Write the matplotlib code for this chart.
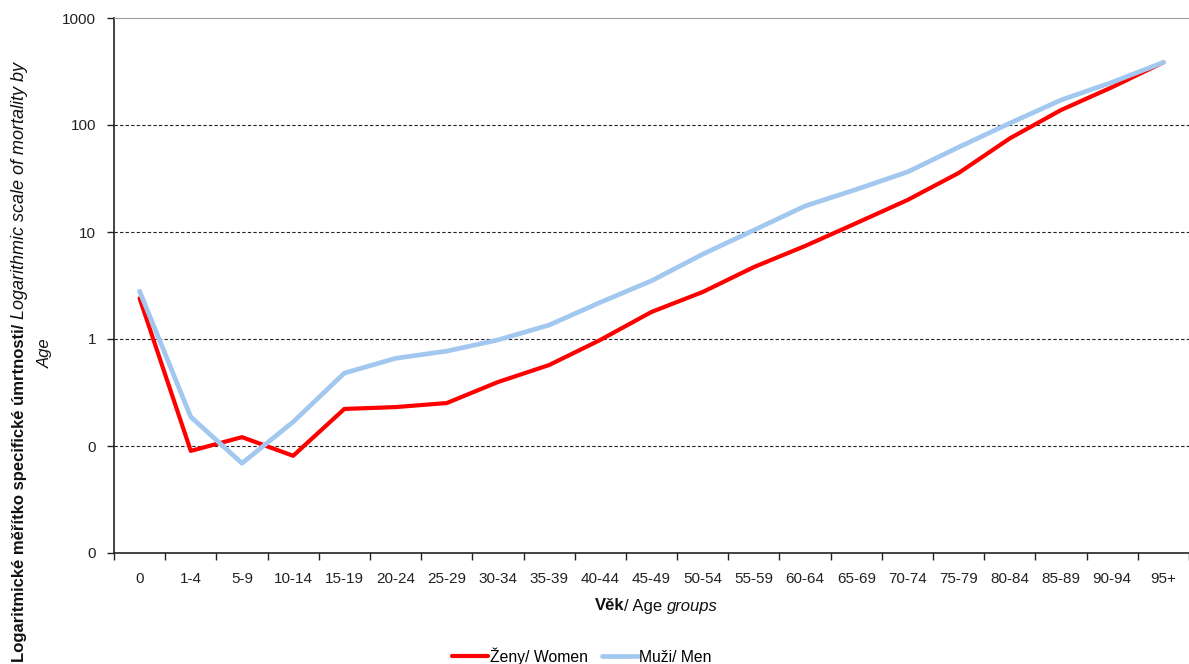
import matplotlib.pyplot as plt
import numpy as np
from matplotlib.ticker import FuncFormatter, NullLocator, FixedLocator

plt.rcParams["font.family"] = ["Liberation Sans", "DejaVu Sans"]
plt.rcParams["font.size"] = 11

# Age groups and age-specific mortality (log scale)
age_groups = ["0", "1-4", "5-9", "10-14", "15-19", "20-24", "25-29", "30-34",
              "35-39", "40-44", "45-49", "50-54", "55-59", "60-64", "65-69",
              "70-74", "75-79", "80-84", "85-89", "90-94", "95+"]
women = [2.4, 0.09, 0.121, 0.081, 0.222, 0.231, 0.252, 0.396, 0.571, 0.98,
         1.79, 2.75, 4.7, 7.4, 12.1, 19.9, 35.6, 75, 138, 226, 385]
men = [2.8, 0.187, 0.069, 0.168, 0.48, 0.66, 0.77, 0.98, 1.35, 2.2,
       3.5, 6.2, 10.4, 17.5, 25.0, 36.4, 62, 104, 171, 251, 385]

W, H = 1189, 664
fig = plt.figure(figsize=(W / 100, H / 100), dpi=100)
ax = fig.add_axes([114 / W, 1 - 553 / H, 1 - 114 / W, (553 - 18) / H])

x = np.arange(len(age_groups))
ax.plot(x, women, color="#FF0000", lw=3.0, solid_capstyle="round",
        solid_joinstyle="round", label="Ženy/ Women", zorder=3)
ax.plot(x, men, color="#A3C8F0", lw=3.4, solid_capstyle="round",
        solid_joinstyle="round", label="Muži/ Men", zorder=3)

ax.set_yscale("log")
ax.set_ylim(0.01, 1000)
ax.set_xlim(-0.5, -0.5 + (W - 114) / 51.6)

ax.yaxis.set_major_locator(FixedLocator([0.01, 0.1, 1, 10, 100, 1000]))
ax.yaxis.set_minor_locator(NullLocator())
ax.yaxis.set_major_formatter(FuncFormatter(lambda v, p: f"{v:.0f}"))
ax.tick_params(axis="y", which="major", direction="out", length=5,
               width=1, pad=8, colors="#222222")

for v in [0.1, 1, 10, 100]:
    ax.axhline(v, color="#222222", lw=0.8, ls=(0, (3, 2)), zorder=1)

ax.set_xticks(x)
ax.set_xticklabels(age_groups)
ax.set_xticks(np.arange(-0.5, len(age_groups), 1), minor=True)
ax.tick_params(axis="x", which="major", length=0, pad=14, colors="#222222")
ax.tick_params(axis="x", which="minor", direction="out", length=5, width=1,
               color="#222222")

ax.spines["right"].set_visible(False)
ax.spines["top"].set_color("#A0A0A0")
ax.spines["left"].set_color("#222222")
ax.spines["bottom"].set_color("#222222")
ax.spines["left"].set_linewidth(1.2)
ax.spines["bottom"].set_linewidth(1.2)

# y axis title: bold Czech part, italic English part, wrapped
t1 = fig.text(20 / W, 1 - 662 / H, "Logaritmické měřítko specifické úmrtnosti/ ",
              rotation=90, ha="center", va="bottom", fontweight="bold",
              fontsize=12, color="#111111")
ax.annotate("Logarithmic scale of mortality by", xy=(0.5, 1.0),
            xycoords=t1, rotation=90, ha="center", va="bottom",
            fontstyle="italic", fontsize=13, color="#111111",
            annotation_clip=False)
fig.text(45 / W, 1 - 353 / H, "Age", rotation=90, ha="center", va="center",
         fontstyle="italic", fontsize=12, color="#111111")

# x axis title
x1 = fig.text(595 / W, 1 - 606 / H, "Věk", ha="left", va="center",
              fontweight="bold", fontsize=12, color="#111111")
x2 = ax.annotate("/ Age ", xy=(1.0, 0.5), xycoords=x1, ha="left",
                 va="center", fontsize=12, color="#111111",
                 annotation_clip=False)
ax.annotate("groups", xy=(1.0, 0.5), xycoords=x2, ha="left", va="center",
            fontsize=12, fontstyle="italic", color="#111111",
            annotation_clip=False)

leg = fig.legend(loc="center", bbox_to_anchor=(582 / W, 1 - 656 / H),
                 ncol=2, frameon=False, handlelength=2.3, handletextpad=0.1,
                 columnspacing=0.9, fontsize=11.3)

fig.savefig("out.png", dpi=100)
